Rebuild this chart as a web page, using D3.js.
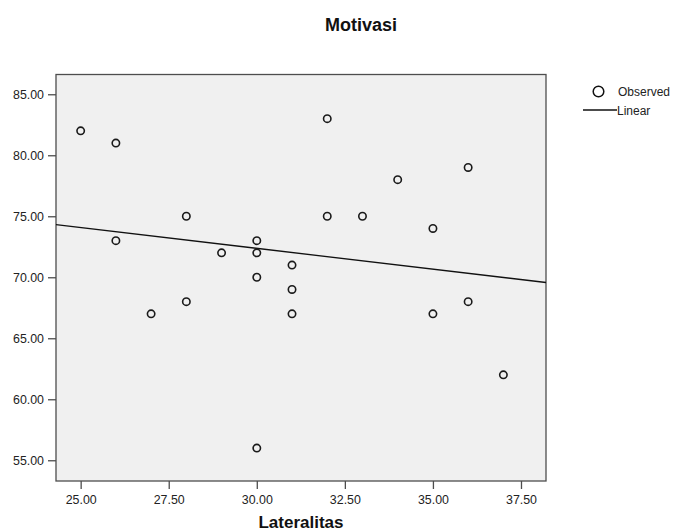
<!DOCTYPE html>
<html><head><meta charset="utf-8">
<script src="https://cdn.jsdelivr.net/npm/d3@7/dist/d3.min.js"></script>
<style>body{margin:0;background:#fff;}svg{display:block;font-family:"Liberation Sans",Arial,sans-serif;}</style>
</head><body>
<script>
const title = "Motivasi";
const xLabel = "Lateralitas";
const lateralitas = [25,26,26,27,28,28,29,30,30,30,30,31,31,31,32,32,33,34,35,35,36,36,37];
const motivasi    = [82,81,73,67,75,68,72,73,72,70,56,71,69,67,83,75,75,78,74,67,79,68,62];
const xTicks = [25,27.5,30,32.5,35,37.5];
const yTicks = [55,60,65,70,75,80,85];
const legendItems = ["Observed","Linear"];

const W = 675, H = 531;
const plot = {left:56, top:74.5, right:546, bottom:481};
const svg = d3.select("body").append("svg").attr("width",W).attr("height",H);

const x = d3.scaleLinear().domain([24.30,38.21]).range([plot.left,plot.right]);
const y = d3.scaleLinear().domain([53.30,86.62]).range([plot.bottom,plot.top]);

svg.append("rect").attr("x",plot.left).attr("y",plot.top)
  .attr("width",plot.right-plot.left).attr("height",plot.bottom-plot.top)
  .attr("fill","#f0f0f0").attr("stroke","#4d4d4d").attr("stroke-width",1.3);

// axes
const xAxis = svg.append("g").attr("transform",`translate(0,${plot.bottom})`)
  .call(d3.axisBottom(x).tickValues(xTicks).tickFormat(d3.format(".2f")).tickSize(8).tickSizeOuter(0));
const yAxis = svg.append("g").attr("transform",`translate(${plot.left},0)`)
  .call(d3.axisLeft(y).tickValues(yTicks).tickFormat(d3.format(".2f")).tickSize(8).tickSizeOuter(0));
[xAxis,yAxis].forEach(g=>{
  g.select(".domain").remove();
  g.selectAll(".tick line").attr("stroke","#4d4d4d").attr("stroke-width",1.3);
  g.selectAll(".tick text").attr("fill","#222").style("font-size","12.4px").style("font-family","'Liberation Sans',Arial,sans-serif");
});
xAxis.selectAll(".tick text").attr("y",14.5);
yAxis.selectAll(".tick text").attr("x",-12);

// regression line
const mx = d3.mean(lateralitas), my = d3.mean(motivasi);
const sxy = d3.sum(lateralitas.map((v,i)=>(v-mx)*(motivasi[i]-my)));
const sxx = d3.sum(lateralitas.map(v=>(v-mx)*(v-mx)));
const b = sxy/sxx, a = my - b*mx;
const [x0,x1] = x.domain();
svg.append("line").attr("x1",x(x0)).attr("x2",x(x1))
  .attr("y1",y(a+b*x0)).attr("y2",y(a+b*x1))
  .attr("stroke","#111").attr("stroke-width",1.3);

// points
svg.append("g").selectAll("circle").data(lateralitas.map((v,i)=>[v,motivasi[i]])).join("circle")
  .attr("cx",d=>x(d[0])).attr("cy",d=>y(d[1])).attr("r",3.7)
  .attr("fill","none").attr("stroke","#1a1a1a").attr("stroke-width",1.6);

// title
svg.append("text").attr("x",361).attr("y",31).attr("text-anchor","middle")
  .style("font-weight","bold").style("font-size","18px").attr("fill","#111").text(title);
svg.append("text").attr("x",301).attr("y",528).attr("text-anchor","middle")
  .style("font-weight","bold").style("font-size","17px").attr("fill","#111").text(xLabel);

// legend
const lg = svg.append("g");
lg.append("circle").attr("cx",598.5).attr("cy",91.5).attr("r",5.3)
  .attr("fill","none").attr("stroke","#111").attr("stroke-width",1.5);
lg.append("text").attr("x",618).attr("y",95.5).style("font-size","12px").attr("fill","#222").text(legendItems[0]);
lg.append("line").attr("x1",583).attr("x2",617).attr("y1",110).attr("y2",110).attr("stroke","#111").attr("stroke-width",1.3);
lg.append("text").attr("x",617).attr("y",114.5).style("font-size","12px").attr("fill","#222").text(legendItems[1]);
</script>
</body></html>
